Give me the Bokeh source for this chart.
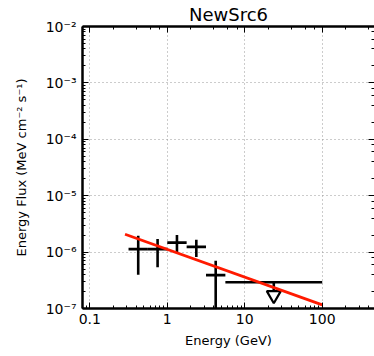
from bokeh.plotting import figure
from bokeh.models import Range1d, LogAxis, LogTicker, CustomJSTickFormatter, ColumnDataSource
from bokeh.embed import file_html
from bokeh.resources import INLINE

# ---- data ----
e_center = [0.4217, 0.7499, 1.3335, 2.3714, 4.2170]
e_lo = [0.3162, 0.5623, 1.0, 1.7783, 3.1623]
e_hi = [0.5623, 1.0, 1.7783, 3.1623, 5.6234]
flux = [1.13e-6, 1.13e-6, 1.47e-6, 1.24e-6, 3.9e-7]
flux_lo = [3.97e-7, 5.4e-7, 9.95e-7, 8.2e-7, 5e-8]
flux_hi = [1.95e-6, 1.70e-6, 2.0e-6, 1.66e-6, 7.0e-7]

ul_e = [23.71]
ul_e_lo = [5.6234]
ul_e_hi = [100.0]
ul_flux = [2.92e-7]
ul_arrow_end = [2.08e-7]
ul_marker = [1.72e-7]

model_e = [0.285, 100.0]
model_flux = [2.07e-6, 1.16e-7]

x_tick_values = [0.1, 1, 10, 100]
x_tick_labels = ["0.1", "1", "10", "100"]
y_tick_values = [1e-7, 1e-6, 1e-5, 1e-4, 1e-3, 1e-2]
y_tick_labels = ["10\u207b\u2077", "10\u207b\u2076", "10\u207b\u2075", "10\u207b\u2074", "10\u207b\u00b3", "10\u207b\u00b2"]

FONT = "DejaVu Sans"

fmt_code = """
let best = 0, bd = Infinity;
for (let i = 0; i < vals.length; i++) {
  const d = Math.abs(Math.log10(tick) - Math.log10(vals[i]));
  if (d < bd) { bd = d; best = i; }
}
return bd < 1e-6 ? labels[best] : "";
"""

p = figure(width=374, height=356, x_axis_type="log", y_axis_type="log",
           x_range=Range1d(0.0805, 473), y_range=Range1d(1e-7, 1e-2),
           output_backend="svg", toolbar_location=None,
           min_border_left=82, min_border_right=0, min_border_top=26, min_border_bottom=48,
           title="NewSrc6")
p.outline_line_color = None
p.background_fill_color = "white"
p.border_fill_color = "white"

p.title.text_font = FONT
p.title.text_font_size = "18px"
p.title.text_font_style = "normal"
p.title.text_color = "black"
p.title.align = "center"
p.title.standoff = 3

p.xaxis.formatter = CustomJSTickFormatter(args=dict(vals=x_tick_values, labels=x_tick_labels), code=fmt_code)
p.yaxis.formatter = CustomJSTickFormatter(args=dict(vals=y_tick_values, labels=y_tick_labels), code=fmt_code)

for ax in (p.xaxis[0], p.yaxis[0]):
    ax.axis_line_width = 2.5
    ax.axis_line_color = "black"
    ax.major_tick_in = 6
    ax.major_tick_out = 0
    ax.minor_tick_in = 3
    ax.minor_tick_out = 0
    ax.major_tick_line_color = "black"
    ax.minor_tick_line_color = "black"
    ax.major_label_text_font = FONT
    ax.major_label_text_font_size = "14px"
    ax.major_label_text_color = "black"
    ax.axis_label_text_font = FONT
    ax.axis_label_text_font_size = "13px"
    ax.axis_label_text_font_style = "normal"
    ax.axis_label_text_color = "black"

p.xaxis.axis_label = "Energy (GeV)"
p.yaxis.axis_label = "Energy Flux (MeV cm\u207b\u00b2 s\u207b\u00b9)"
p.xaxis.major_label_standoff = 5
p.xaxis.axis_label_standoff = 6
p.yaxis.major_label_standoff = 6
p.yaxis.axis_label_standoff = 14

empty = CustomJSTickFormatter(code="return '';")
top = LogAxis(ticker=LogTicker(), formatter=empty, axis_line_width=2.5,
              major_tick_in=6, major_tick_out=0, minor_tick_in=3, minor_tick_out=0,
              major_label_text_font_size="0px", major_label_standoff=0)
p.add_layout(top, "above")
right = LogAxis(ticker=LogTicker(), formatter=CustomJSTickFormatter(code="return '';"),
                axis_line_color=None,
                major_tick_in=6, major_tick_out=0, minor_tick_in=3, minor_tick_out=0,
                major_label_text_font_size="0px", major_label_standoff=0)
p.add_layout(right, "right")

for g in (p.xgrid[0], p.ygrid[0]):
    g.grid_line_color = "#999999"
    g.grid_line_dash = "1 3"
    g.grid_line_width = 1

src = ColumnDataSource(dict(e=e_center, elo=e_lo, ehi=e_hi, f=flux, flo=flux_lo, fhi=flux_hi))
p.segment(x0="elo", x1="ehi", y0="f", y1="f", source=src, line_color="black", line_width=2.6)
p.segment(x0="e", x1="e", y0="flo", y1="fhi", source=src, line_color="black", line_width=2.6)

usrc = ColumnDataSource(dict(e=ul_e, elo=ul_e_lo, ehi=ul_e_hi, f=ul_flux, fa=ul_arrow_end, fm=ul_marker))
p.segment(x0="elo", x1="ehi", y0="f", y1="f", source=usrc, line_color="black", line_width=2.6)
p.segment(x0="e", x1="e", y0="f", y1="fa", source=usrc, line_color="black", line_width=2.6)
p.scatter(x="e", y="fm", source=usrc, marker="inverted_triangle", size=14,
          fill_color="white", line_color="black", line_width=2.2)

p.line(model_e, model_flux, line_color="#ff1a00", line_width=2.8)

open("out.html", "w").write(file_html(p, INLINE))
